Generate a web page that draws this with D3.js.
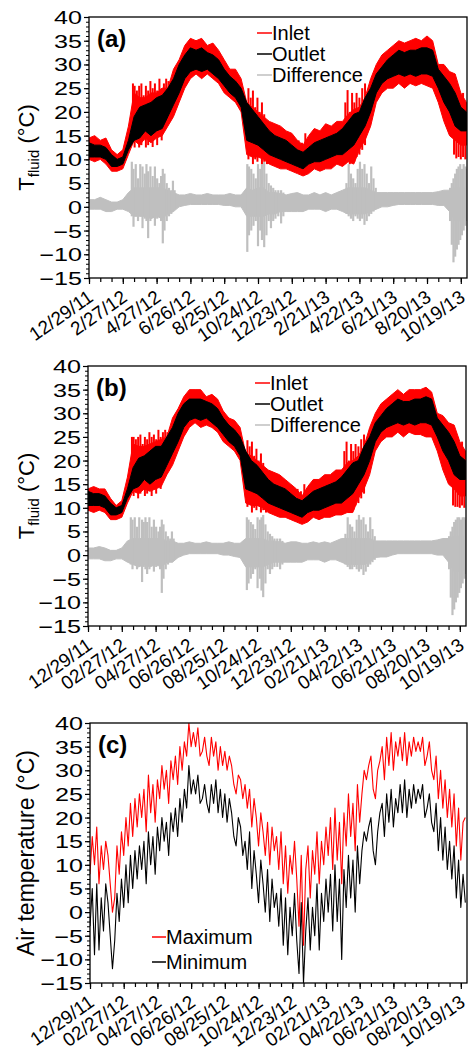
<!DOCTYPE html>
<html><head><meta charset="utf-8">
<script src="https://cdn.jsdelivr.net/npm/d3@7"></script>
<style>
body{margin:0;background:#fff}
svg{display:block}
text{fill:#000;font-family:"Liberation Sans",Arimo,Arial,sans-serif}
</style>
</head><body>
<svg id="chart" width="469" height="1051"></svg>
<script>
// ---------------- DATA ----------------
const startUTC = Date.UTC(2011, 11, 29);     // 12/29/11 = day 0
const endDay = 671;
const majorTickDays = [0,60,120,180,240,300,360,420,480,540,600,660];
const tickLabelsA = ["12/29/11","2/27/12","4/27/12","6/26/12","8/25/12","10/24/12","12/23/12","2/21/13","4/22/13","6/21/13","8/20/13","10/19/13"];
const tickLabelsBC = ["12/29/11","02/27/12","04/27/12","06/26/12","08/25/12","10/24/12","12/23/12","02/21/13","04/22/13","06/21/13","08/20/13","10/19/13"];
const yTickValues = [-15,-10,-5,0,5,10,15,20,25,30,35,40];

const fluidStepDays = 10;   // fluid core envelopes: one value every 10 days
const airStepDays = 4;      // air temperature: one value every 4 days

// Panel (a) core envelopes
const inletHiA = [14.5,15,14,14.5,12,11,12,17,24,23,
 23,24,24,25,25,29,31,34,35.5,35,
 35.5,34,34.5,33,31,29,29,27,22,21,
 20,19,18,17.5,17,16,15.5,14,13,15,
 16.5,16,17.5,17,18,18,19.5,20.5,21,23,
 27,30,32,33,34,35,34.5,35,35.5,35,
 36,35,30,30,28.5,28,24,22];
const inletLoA = [10,9.5,10,9,7.5,7.5,8,11,14,13,
 14.5,13.5,14.5,15,17,19,22,25,27,28,
 27,28,27,26,24,23,22,20,11,10.5,
 10.5,10,9,8.5,8,8,7.5,7,6.5,7,
 8,7.5,8,8,9,8.5,9.5,9,12,14,
 17,22,24,25,25,26,25,26,25.5,26,
 25.5,25,22,18,15,14,13,13];
const outletHiA = [13.5,13,13,12.5,11,10,10.5,14,19,21,
 21.5,22,23,23.5,25,27,30,32,33.5,33,
 33.5,32.5,32,31,29,27.5,26.5,25,22,20.5,
 19,17.5,16,15,14.5,14,13,12,11.5,12.5,
 13.5,14,14.5,15,15.5,16.5,18,19.5,20,23,
 25,28,29.5,31,32,33,32.5,33,33,33.5,
 33.5,33,29,27.5,26,24,21,20];
const outletLoA = [10.5,10.5,10.5,10,8.5,8.5,9,12,14,14.5,
 16,15,16,16.5,19,21.5,24,27,28.5,29,
 28.5,29,28,27,25.5,24,23,21,14,13.5,
 13,12,11,10.5,10,9.5,9,8.5,8,9,
 9.5,9.5,10,10.5,11,11,12,13,15,17,
 20,24,26,27,27.5,28,27.5,28,27.5,28,
 28,27.5,25,22,20,17,16,16];
const diffHiA = [1.5,1.5,2,1.5,1,1,1.5,
 3,4,4,4,4,4,4,3.5,3,
 2.5,2.5,2.8,2.5,2.5,2.8,2.5,2.5,2.5,2.8,2.5,2.5,
 4,3.5,4,4,3,3,2.8,
 2.5,2.8,3,2.5,2.5,3,2.5,3,2.5,3,
 3.5,4,4,4,4,3.5,3,
 3,3,3,3,3,3,3,3,3,3,3.2,3.5,
 3.5,4,4,4];
const diffLoA = [-0.5,-0.5,-0.5,-1,-1,-0.5,-0.5,
 -1,-2,-2,-2,-2.5,-2,-2.5,-1.5,-1,
 0,0.3,0.5,0.5,0.5,0.5,0.5,0.5,0.3,0.3,0,0,
 -2,-2,-2,-2,-1.5,-1.5,-1,
 -1,-1,-1,-1,-0.5,-0.5,-0.5,-1,-0.5,-0.5,
 -1,-1.5,-1.5,-1.5,-1.5,-1,-0.5,
 0,0,0.3,0.5,0.5,0.5,0.5,0.5,0.5,0.5,0.3,0.3,
 -1,-3,-3,-2];
// Panel (a) spikes: [day, low, high]
const inletSpikesA = [[78,14,26],[81,12.5,25.5],[85,15,24.5],[89,12.5,25.5],[93,13,26],[97,14,23.5],[101,12.5,25.5],
 [105,13,24.5],[109,14,26.5],[113,12.6,25],[117,15,26],[121,13,24.5],[125,16,27],[129,14,25],[133,16,26],[137,17,27],[141,18,26.5],
 [283,10,25],[287,11,23],[291,9,24.5],[295,10,21],[299,9.5,23],[303,10.5,20],[307,9,22],[311,9.5,19.5],[316,9,18],
 [372,7.2,14],[378,7,13.5],[384,7.5,15.5],
 [455,9,22],[459,10,24.6],[463,9,20],[467,10,24],[471,9.5,22],[475,10.5,24],[480,11,23],[485,12,25],[490,13,26],
 [648,11,27],[652,10.2,26],[656,10.5,25],[660,10,23.5],[664,10.5,24],[668,10,22]];
const diffSpikesA = [[76,-2,9.5],[79,-4.2,8],[83,-1.5,9],[87,-3,6],[91,-2,9],[95,-4.5,8.5],[99,-2.5,7],[102,-3,9],
 [105,-6.6,7.5],[109,-3,8.5],[113,-2,6.5],[117,-4,8.5],[121,-2.5,6],[125,-2,5],[128,-3,6.5],[131,-7.7,8],[134,-5,7],
 [138,-3,5],[142,-2,4],[146,-1.5,3.5],[149,-1,5.5],[152,-0.5,3.5],
 [281,-9.5,9],[284,-6,8.5],[288,-5,8],[292,-4,7],[296,-3,6],[300,-8.3,9],[304,-5,8],[307,-7,9],[311,-8.5,9.5],
 [315,-6,7],[319,-3,5],[323,-4.5,4.5],[327,-3,4],[331,-2.5,3.5],[336,-2,3.5],[341,-3.5,3.5],[345,-2,3],
 [457,-1.5,5],[461,-2,9],[465,-2.5,7],[469,-3,6],[473,-2,5],[477,-2.5,8],[481,-3,9.5],[485,-2.5,8],[489,-3.8,9],
 [493,-3,7],[497,-2,5],[501,-1.5,8.5],[505,-1,6],[509,-0.5,4],
 [641,-3,4],[644,-8,5],[647,-11.7,6],[650,-10.5,7],[653,-9,8],[656,-8,8.5],[659,-7,9],[662,-6,8],[665,-5,9],[668,-4,8.5],[671,-3,8]];

// Panel (b) core envelopes
const inletHiB = [14,14.5,14,14,12,10.5,11.5,16.5,23.5,23,
 23,23.5,24,24.5,25,29,31,33.5,35,35,
 35,33.5,34,33,30.5,29,28.5,27,21.5,21,
 20,19,18,17.5,17,16,15,14,12.5,14.5,
 16,16,17,17,18,18,19.5,20,21,23,
 27,30,32,33,34,35,34,35,35,35,
 35.5,34.5,30,29.5,28,27.5,24,22];
const inletLoB = [9.5,9,9.5,9,7.5,7.5,8,11,13.5,13,
 14,13.5,14,14.5,17,19,22,25,27,28,
 27,27.5,27,26,24,23,22,20,11,10.5,
 10.5,10,9,8.5,8,8,7.5,7,6.5,7,
 8,7.5,8,8,8.5,8.5,9,9,12,14,
 17,22,24,25,25,26,25,26,25.5,25.5,
 25,25,22,18,15,14,12.5,12.5];
const outletHiB = [13.5,13,13,12.5,11,10,10.5,14,18.5,20.5,
 21,22,23,23,25,27,30,32,33,33,
 33,32.5,32,31,29,27.5,26.5,25,22,20,
 19,17.5,16,15,14.5,14,13,12,11.5,12.5,
 13.5,14,14.5,15,15.5,16.5,18,19.5,20,23,
 25,28,29.5,31,32,33,32.5,32.5,33,33,
 33.5,33,29,27.5,26,24,21,20];
const outletLoB = [10.5,10.5,10.5,10,8.5,8.5,9,12,14,14.5,
 16,15,16,16.5,19,21.5,24,27,28.5,29,
 28.5,29,28,27,25.5,24,23,21,14,13.5,
 13,12,11,10.5,10,9.5,9,8.5,8,9,
 9.5,9.5,10,10.5,11,11,12,13,15,17,
 20,24,26,27,27.5,28,27.5,28,27.5,28,
 28,27.5,25,22,20,17,16,16];
const diffHiB = [1.5,1.5,1.8,1.5,1,1,1.5,
 3,3.5,3.5,3.5,3.5,3.5,3.5,3,3,
 2.5,2.5,2.8,2.5,2.5,2.8,2.5,2.5,2.5,2.8,2.5,2.5,
 3.5,3.5,3.5,3.5,3,3,2.8,
 2.5,2.8,2.8,2.5,2.5,2.8,2.5,2.8,2.5,3,
 3.5,3.5,3.5,3.5,3.5,3.5,3,
 3,3,3,3,3,3,3,3,3,3,3.2,3.5,
 3.5,4,4,4];
const diffLoB = [-0.8,-0.8,-0.8,-1.2,-1.2,-0.8,-0.8,
 -1.5,-2,-2.5,-2,-2.5,-2,-2.5,-1.5,-1.5,
 -0.5,0,0.3,0.3,0.3,0.3,0.3,0.3,0,0,-0.3,-0.5,
 -2.5,-2.5,-2.5,-2.5,-2,-1.5,-1.5,
 -1.5,-1.5,-1.5,-1.5,-1,-1,-1,-1.5,-1,-1,
 -1.5,-2,-2,-2,-2,-1.5,-0.5,
 -0.4,-0.4,0,0.3,0.3,0.3,0.3,0.3,0.3,0.3,0,0,
 -1.5,-3.5,-3.5,-3];
// Panel (b) spikes: [day, low, high]
const inletSpikesB = [[78,14,25],[81,12.5,25],[85,15,24.5],[89,12,25],[93,13,25.5],[97,14,23.5],[101,12.5,25],
 [105,13,24.5],[109,14,26],[113,12.5,25],[117,15,25.5],[121,13,24.5],[125,16,26.5],[129,14,25],[133,16,26],[137,17,26.5],[141,18,26],
 [283,10.2,24.3],[287,11,23],[291,9,24],[295,10,21],[299,9.5,22.5],[303,10.5,20],[307,9,21.5],[311,9.5,19.5],[316,9,18],
 [372,7.2,14],[378,6.8,13.5],[384,7.5,15],
 [455,9,22],[459,10,24],[463,9,20],[467,10,23.5],[471,9.5,22],[475,10.5,23.5],[480,11,23],[485,12,24.5],[490,13,25.5],
 [648,10.5,27],[652,10.2,26],[656,10.2,25],[660,10,23.5],[664,10.5,24],[668,10,22]];
const diffSpikesB = [[76,-2,8],[79,-3,7.5],[83,-1.5,8],[87,-3,6],[91,-2,8],[96,-5.7,7.5],[99,-2.5,7],[102,-3,8],
 [105,-4,7],[109,-3,8],[113,-2,6],[117,-3.5,7.5],[121,-2.5,6],[125,-2,5],[128,-3,6],[131,-8,7.5],[134,-5,6.5],
 [138,-3,5],[142,-2,4],[146,-1.5,3.5],[149,-1.5,5],[152,-1,3.5],
 [282,-7.4,8],[285,-6,7.5],[289,-5,7],[293,-4,6.5],[297,-3,5.5],[301,-7,8],[305,-5,7.5],[308,-7.5,8],[311,-8.9,8.5],
 [315,-6,6.5],[319,-3,5],[323,-4,4.5],[327,-3,4],[331,-2.5,3.5],[336,-2.5,3.5],[341,-3,3.5],[345,-2,3],
 [457,-2,4.5],[461,-2.5,8],[465,-3,6.5],[469,-3,6],[473,-2.5,5],[477,-3,7.5],[481,-3.5,8.5],[485,-3,7.5],[489,-4.2,8],
 [493,-3.5,6.5],[497,-2.5,5],[501,-2,8],[505,-1.5,5.5],[509,-1,4],
 [641,-3,4],[644,-9,5],[647,-12.7,6],[650,-11.5,7],[653,-10,7.5],[656,-9,8],[659,-8,8],[662,-7,7.5],[665,-6,8],[668,-5,8],[671,-4,7.5]];

// Panel (c)
const airMax = [8,16,10,18,6,14,9,15,
 12,6,0,3,14,8,17,12,
 20,14,23,16,24,18,25,
 20,26,17,29,21,27,19,28,
 24,31,26,30,23,32,28,
 33,27,35,30,36,33,40,35,
 38,35,39,33,34,37,33,31,
 37,33,36,30,35,31,34,
 30,33,31,27,25,29,28,24,
 27,22,26,18,24,20,14,21,
 17,12,19,10,18,13,16,
 9,17,6,14,4,12,8,15,
 7,-3,12,-7,9,14,3,13,
 8,17,6,15,10,18,12,
 20,9,22,11,19,6,21,14,
 25,16,23,13,27,19,25,30,
 28,31,33,26,24,30,32,
 35,28,37,31,38,30,36,33,
 37,32,38,31,36,33,37,34,
 36,34,37,31,33,36,30,
 28,33,24,30,22,28,20,26,
 18,25,14,22,11,19,20];
const airMin = [-3,5,-9,6,-8,3,-4,6,
 2,-5,-12,-6,4,-2,7,1,
 10,2,12,5,13,7,14,
 9,15,6,17,10,16,8,18,
 13,20,15,19,12,21,17,
 22,16,24,19,26,22,31,25,
 28,25,29,23,24,27,23,21,
 27,23,28,21,26,20,25,
 19,24,21,16,14,20,18,12,
 15,9,17,5,13,8,2,11,
 6,0,9,-2,7,1,4,
 -3,5,-7,3,-9,1,-5,4,
 -6,-13,2,-15,-4,3,-8,1,
 -5,6,-8,4,-2,7,0,
 8,-4,10,-2,7,-10,9,1,
 12,3,11,0,14,6,13,17,
 15,18,20,13,10,17,21,
 23,16,25,19,26,18,24,21,
 27,21,28,20,26,22,27,23,
 26,24,27,20,22,25,19,
 17,23,13,20,11,18,9,15,
 7,14,3,11,1,8,2];

// ---------------- DRAW ----------------
const DAY = 86400000;
const dayDate = d => new Date(startUTC + d * DAY);
const svg = d3.select("#chart");
const RED = "#ff0000", GRAY = "#bfbfbf";

const panels = [
  {id:"a", left:89, right:467, top:17, bottom:278, labels:tickLabelsA,
   legendX:257, legendY:33, type:"fluid",
   inletHi:inletHiA, inletLo:inletLoA, outletHi:outletHiA, outletLo:outletLoA, diffHi:diffHiA, diffLo:diffLoA,
   inletSpikes:inletSpikesA, diffSpikes:diffSpikesA},
  {id:"b", left:88, right:466, top:366, bottom:626, labels:tickLabelsBC,
   legendX:255, legendY:383, type:"fluid",
   inletHi:inletHiB, inletLo:inletLoB, outletHi:outletHiB, outletLo:outletLoB, diffHi:diffHiB, diffLo:diffLoB,
   inletSpikes:inletSpikesB, diffSpikes:diffSpikesB},
  {id:"c", left:90, right:467, top:723, bottom:983, labels:tickLabelsBC,
   legendX:152, legendY:937, type:"air"}
];

panels.forEach(p => {
  const x = d3.scaleUtc().domain([dayDate(0), dayDate(endDay)]).range([p.left, p.right]);
  const y = d3.scaleLinear().domain([-15, 40]).range([p.bottom, p.top]);
  const g = svg.append("g");
  const clipId = "clip" + p.id;
  svg.append("clipPath").attr("id", clipId).append("rect")
    .attr("x", p.left).attr("y", p.top).attr("width", p.right - p.left).attr("height", p.bottom - p.top);
  const plot = g.append("g").attr("clip-path", `url(#${clipId})`);

  if (p.type === "fluid") {
    const band = (hi, lo) => d3.area()
      .x((d, i) => x(dayDate(i * fluidStepDays)))
      .y0((d, i) => y(lo[i]))
      .y1((d, i) => y(hi[i]))(hi);
    const spikes = (arr, c, w) => plot.append("g").selectAll("line").data(arr).join("line")
      .attr("x1", d => x(dayDate(d[0]))).attr("x2", d => x(dayDate(d[0])))
      .attr("y1", d => y(d[1])).attr("y2", d => y(d[2]))
      .attr("stroke", c).attr("stroke-width", w);
    // difference
    plot.append("path").attr("d", band(p.diffHi, p.diffLo)).attr("fill", GRAY).attr("stroke", GRAY).attr("stroke-width", 1);
    spikes(p.diffSpikes, GRAY, 2.2);
    // inlet
    plot.append("path").attr("d", band(p.inletHi, p.inletLo)).attr("fill", RED).attr("stroke", RED).attr("stroke-width", 1);
    spikes(p.inletSpikes, RED, 2);
    // outlet
    plot.append("path").attr("d", band(p.outletHi, p.outletLo)).attr("fill", "#000").attr("stroke", "#000").attr("stroke-width", 1);

    const leg = [["Inlet",RED],["Outlet","#000000"],["Difference",GRAY]];
    leg.forEach((l, i) => {
      const yy = p.legendY + i * 21;
      g.append("line").attr("x1", p.legendX).attr("x2", p.legendX + 15)
        .attr("y1", yy).attr("y2", yy).attr("stroke", l[1]).attr("stroke-width", 1.5);
      g.append("text").attr("x", p.legendX + 15).attr("y", yy + 7)
        .attr("font-size", 20).text(l[0]);
    });
  } else {
    const line = arr => d3.line()
      .x((d, i) => x(dayDate(i * airStepDays)))
      .y(d => y(d))(arr);
    plot.append("path").attr("d", line(airMin)).attr("fill", "none")
      .attr("stroke", "#000").attr("stroke-width", 1.1).attr("stroke-linejoin", "round");
    plot.append("path").attr("d", line(airMax)).attr("fill", "none")
      .attr("stroke", RED).attr("stroke-width", 1.1).attr("stroke-linejoin", "round");
    const leg = [["Maximum",RED],["Minimum","#000000"]];
    leg.forEach((l, i) => {
      const yy = p.legendY + i * 25;
      g.append("line").attr("x1", p.legendX).attr("x2", p.legendX + 14)
        .attr("y1", yy).attr("y2", yy).attr("stroke", l[1]).attr("stroke-width", 1.5);
      g.append("text").attr("x", p.legendX + 14).attr("y", yy + 7)
        .attr("font-size", 20).text(l[0]);
    });
  }

  // frame
  g.append("rect").attr("x", p.left).attr("y", p.top)
    .attr("width", p.right - p.left).attr("height", p.bottom - p.top)
    .attr("fill", "none").attr("stroke", "#000").attr("stroke-width", 1.3);

  // x axis: minor + major
  const minorDays = d3.range(0, endDay, 20);
  g.append("g").attr("transform", `translate(0,${p.bottom})`)
    .call(d3.axisBottom(x).tickValues(minorDays.map(dayDate)).tickSize(4).tickFormat(""))
    .call(a => a.select(".domain").remove())
    .call(a => a.selectAll("line").attr("stroke-width", 1.2));
  const xa = g.append("g").attr("transform", `translate(0,${p.bottom})`)
    .call(d3.axisBottom(x).tickValues(majorTickDays.map(dayDate)).tickSize(6)
      .tickFormat((d, i) => p.labels[i]));
  xa.attr("font-family", null);
  xa.select(".domain").remove();
  xa.selectAll("line").attr("stroke-width", 1.2);
  xa.selectAll("text")
    .attr("font-size", 19)
    .attr("text-anchor", "end").attr("x", 0).attr("y", 0).attr("dy", "0")
    .attr("transform", "translate(5,22) rotate(-35)");

  // y axis: minor + major
  g.append("g").attr("transform", `translate(${p.left},0)`)
    .call(d3.axisLeft(y).tickValues(d3.range(-15, 41, 1)).tickSize(3).tickFormat(""))
    .call(a => a.select(".domain").remove())
    .call(a => a.selectAll("line").attr("stroke-width", 1));
  const ya = g.append("g").attr("transform", `translate(${p.left},0)`)
    .call(d3.axisLeft(y).tickValues(yTickValues).tickSize(5).tickFormat(d3.format("d")));
  ya.attr("font-family", null);
  ya.select(".domain").remove();
  ya.selectAll("line").attr("stroke-width", 1.2);
  ya.selectAll("text").attr("font-size", 18)
    .attr("x", 0).attr("dy", "0.36em")
    .attr("transform", "translate(-7,0) scale(1.4,1)");

  // panel letter
  g.append("text").attr("x", p.left + 8).attr("y", p.top + 30)
    .attr("font-weight", "bold").attr("font-size", 24)
    .text("(" + p.id + ")");

  // y label
  const cy = (p.top + p.bottom) / 2;
  const lab = g.append("text")
    .attr("transform", `translate(34,${cy}) rotate(-90)`)
    .attr("text-anchor", "middle").attr("font-size", p.type === "fluid" ? 22 : 23);
  if (p.type === "fluid") {
    lab.append("tspan").text("T");
    lab.append("tspan").attr("font-size", 15).attr("dy", 5).text("fluid");
    lab.append("tspan").attr("dy", -5).text(" (°C)");
  } else {
    lab.text("Air temperature (°C)");
  }
});
</script>
</body></html>
